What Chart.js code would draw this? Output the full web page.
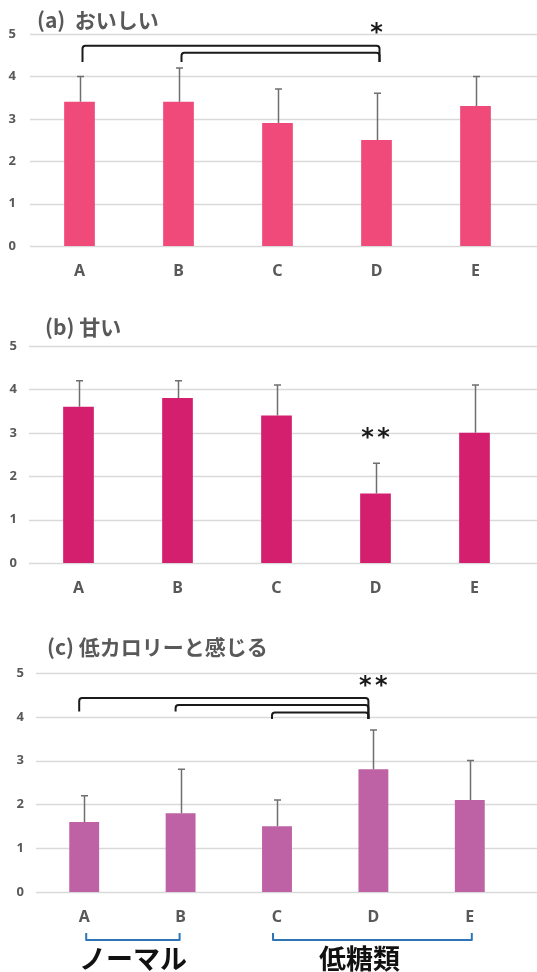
<!DOCTYPE html>
<html>
<head>
<meta charset="utf-8">
<script src="https://cdn.jsdelivr.net/npm/chart.js@4"></script>
<style>
  body { margin: 0; background: #fff; width: 537px; height: 972px; overflow: hidden; position: relative; }
  canvas { position: absolute; left: 0; }
</style>
</head>
<body>
<canvas id="chartA" width="537" height="290" style="top:0px"></canvas>
<canvas id="chartB" width="537" height="300" style="top:300px"></canvas>
<canvas id="chartC" width="537" height="352" style="top:620px"></canvas>
<script>
// Data ----- START
const categories = ['A', 'B', 'C', 'D', 'E'];
const yTicks = [0, 1, 2, 3, 4, 5];

const tastyMeans = [3.4, 3.4, 2.9, 2.5, 3.3];       // (a) おいしい
const tastyErrors = [0.6, 0.8, 0.8, 1.1, 0.7];

const sweetMeans = [3.6, 3.8, 3.4, 1.6, 3.0];       // (b) 甘い
const sweetErrors = [0.6, 0.4, 0.7, 0.7, 1.1];

const lowCalMeans = [1.6, 1.8, 1.5, 2.8, 2.1];      // (c) 低カロリーと感じる
const lowCalErrors = [0.6, 1.0, 0.6, 0.9, 0.9];

// significance brackets: from / to category index, bracket height and feet (in score units)
const tastyBrackets = [
    { from: 0, to: 3, top: 4.72, footL: 4.34, footR: 4.34 },
    { from: 1, to: 3, top: 4.56, footL: 4.34, footR: 4.34 }
];
const lowCalBrackets = [
    { from: 0, to: 3, top: 4.43, footL: 4.12, footR: 3.95 },
    { from: 1, to: 3, top: 4.27, footL: 4.12, footR: 3.95 },
    { from: 2, to: 3, top: 4.10, footL: 3.95, footR: 3.95 }
];
const tastyStars = { at: 3, value: 5.13, count: 1 };
const sweetStars = { at: 3, value: 3.0, count: 2 };
const lowCalStars = { at: 3, value: 4.82, count: 2 };

// groups under the last chart
const groups = [
    { from: 0, to: 1, label: 'ノーマル' },
    { from: 2, to: 4, label: '低糖類' }
];
// Data ----- END

const textColor = '#595959';
const gridColor = '#d9d9d9';

// Draws grid, error bars, brackets, stars and the title for one panel
function panelPlugin(p) {
    return {
        id: 'panelExtras',
        beforeDatasetsDraw(chart) {
            const ctx = chart.ctx;
            const y = chart.scales.y;
            ctx.save();
            ctx.strokeStyle = gridColor;
            ctx.lineWidth = 1.5;
            yTicks.forEach(t => {
                const py = Math.round(y.getPixelForValue(t)) + 0.5;
                ctx.beginPath();
                ctx.moveTo(chart.chartArea.left, py);
                ctx.lineTo(chart.width, py);
                ctx.stroke();
            });
            ctx.restore();
        },
        afterDatasetsDraw(chart) {
            const ctx = chart.ctx;
            const x = chart.scales.x;
            const y = chart.scales.y;
            const bars = chart.getDatasetMeta(0).data;
            ctx.save();

            //Error bars (upper side only)
            ctx.strokeStyle = '#6f6f6f';
            ctx.lineWidth = 1.5;
            p.means.forEach((m, i) => {
                const cx = Math.round(bars[i].x) + 0.5;
                const yTop = y.getPixelForValue(m + p.errors[i]);
                ctx.beginPath();
                ctx.moveTo(cx, y.getPixelForValue(m));
                ctx.lineTo(cx, yTop);
                ctx.moveTo(cx - 3.5, yTop);
                ctx.lineTo(cx + 3.5, yTop);
                ctx.stroke();
            });

            //Significance brackets
            ctx.strokeStyle = '#1a1a1a';
            ctx.lineWidth = 2;
            ctx.lineJoin = 'round';
            (p.brackets || []).forEach(b => {
                const x1 = x.getPixelForValue(b.from) + p.shift;
                const x2 = x.getPixelForValue(b.to) + p.shift;
                const yt = y.getPixelForValue(b.top);
                const r = 3;
                ctx.beginPath();
                ctx.moveTo(x1, y.getPixelForValue(b.footL));
                ctx.arcTo(x1, yt, x1 + r, yt, r);
                ctx.arcTo(x2, yt, x2, yt + r, r);
                ctx.lineTo(x2, y.getPixelForValue(b.footR));
                ctx.stroke();
            });

            //Stars
            if (p.stars) {
                const sx = x.getPixelForValue(p.stars.at);
                const sy = y.getPixelForValue(p.stars.value);
                ctx.fillStyle = '#1a1a1a';
                ctx.font = 'bold 24px "DejaVu Sans"';
                ctx.textAlign = 'center';
                ctx.textBaseline = 'alphabetic';
                for (let k = 0; k < p.stars.count; k++) {
                    const off = (k - (p.stars.count - 1) / 2) * 16;
                    ctx.fillText('*', sx + off, sy + 12);
                }
            }

            //Group brackets below the axis
            if (p.groups) {
                ctx.strokeStyle = '#2e75b6';
                ctx.lineWidth = 2;
                p.groups.forEach((g, gi) => {
                    const x1 = x.getPixelForValue(g.from) + p.groupEnds[gi][0];
                    const x2 = x.getPixelForValue(g.to) + p.groupEnds[gi][1];
                    const yb = chart.chartArea.bottom + 48;
                    ctx.beginPath();
                    ctx.moveTo(x1, yb - 7);
                    ctx.lineTo(x1, yb);
                    ctx.lineTo(x2, yb);
                    ctx.lineTo(x2, yb - 7);
                    ctx.stroke();
                    ctx.fillStyle = '#111';
                    ctx.font = 'bold 27px "Noto Sans CJK JP"';
                    ctx.textAlign = 'center';
                    ctx.textBaseline = 'middle';
                    ctx.fillText(g.label, (x1 + x2) / 2 + p.groupLabelShift[gi], yb + 19);
                });
            }

            //Title
            ctx.fillStyle = textColor;
            ctx.font = 'bold 21px "Noto Sans CJK JP"';
            ctx.textAlign = 'left';
            ctx.textBaseline = 'middle';
            ctx.fillText(p.title, p.titleX, p.titleY);
            ctx.restore();
        }
    };
}

function makePanel(canvasId, p) {
    const canvas = document.getElementById(canvasId);
    return new Chart(canvas.getContext('2d'), {
        type: 'bar',
        data: {
            labels: categories,
            datasets: [{
                data: p.means,
                backgroundColor: p.color,
                borderWidth: 0,
                categoryPercentage: 1,
                barPercentage: 0.31
            }]
        },
        options: {
            responsive: false,
            animation: false,
            layout: { padding: { top: p.padTop, right: 537 - p.right, left: 0, bottom: 0 } },
            plugins: { legend: { display: false }, tooltip: { enabled: false } },
            scales: {
                x: {
                    grid: { display: false, drawTicks: false },
                    border: { display: false },
                    ticks: { color: textColor, padding: 16, font: { family: 'Noto Sans', weight: 'bold', size: 16 } },
                    afterFit(s) { s.height = p.xAxisH; }
                },
                y: {
                    min: 0,
                    max: 5,
                    grid: { display: false, drawTicks: false },
                    border: { display: false },
                    ticks: { stepSize: 1, color: textColor, padding: p.tickPad, font: { family: 'Noto Sans', weight: 'bold', size: 13 } },
                    afterFit(s) { s.width = p.left; }
                }
            }
        },
        plugins: [panelPlugin(p)]
    });
}

makePanel('chartA', {
    means: tastyMeans, errors: tastyErrors, color: '#ef4a7a',
    brackets: tastyBrackets, stars: tastyStars, shift: 3,
    title: '(a)  おいしい', titleX: 37, titleY: 20,
    padTop: 34, left: 30, right: 525, xAxisH: 44, tickPad: 14
});

makePanel('chartB', {
    means: sweetMeans, errors: sweetErrors, color: '#d41f6f',
    stars: sweetStars, shift: 0,
    title: '(b) 甘い', titleX: 45, titleY: 27,
    padTop: 46, left: 29, right: 524, xAxisH: 37, tickPad: 12
});

makePanel('chartC', {
    means: lowCalMeans, errors: lowCalErrors, color: '#be62a5',
    brackets: lowCalBrackets, stars: lowCalStars, shift: -5,
    groups: groups, groupEnds: [[2, -1], [-4, 2]], groupLabelShift: [0, -13],
    title: '(c) 低カロリーと感じる', titleX: 47, titleY: 27,
    padTop: 53, left: 36, right: 518, xAxisH: 80, tickPad: 12
});
</script>
</body>
</html>
